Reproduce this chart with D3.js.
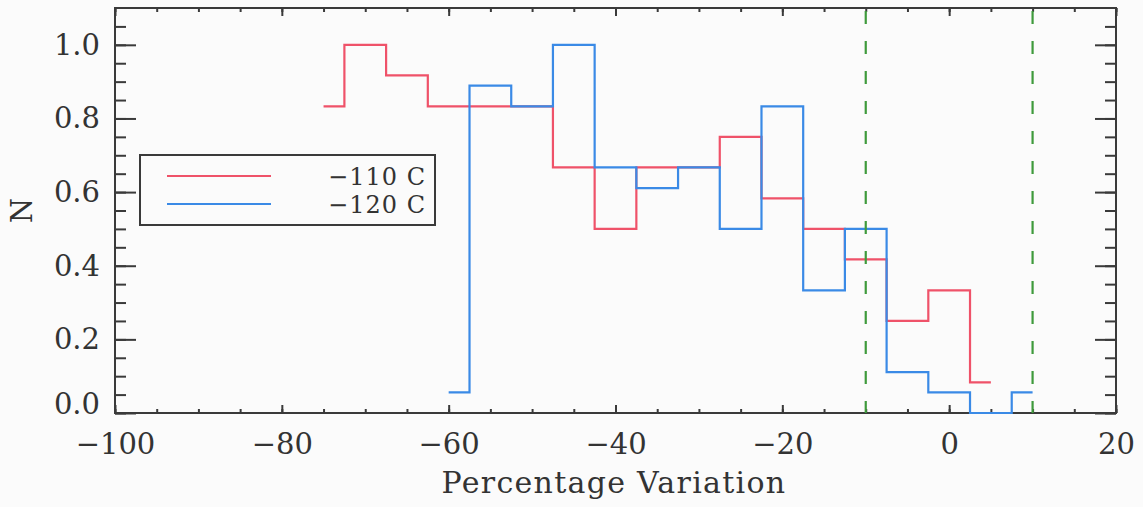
<!DOCTYPE html>
<html>
<head>
<meta charset="utf-8">
<script src="https://cdn.jsdelivr.net/npm/d3@7"></script>
<style>
  body { margin: 0; background: #fbfbfb; }
  svg { display: block; }
  text { font-family: "DejaVu Serif", serif; fill: #333; }
</style>
</head>
<body>
<svg class="hist"></svg>
<script>
// Total dimensions
var w = 1143,
    h = 507;

// Bin centres and normalised counts for each temperature
var redCentres = [-75, -70, -65, -60, -55, -50, -45, -40, -35, -30, -25, -20, -15, -10, -5, 0, 5];
var redValues = [0.833, 1.0, 0.917, 0.833, 0.833, 0.833, 0.667, 0.5, 0.667, 0.667, 0.75, 0.583, 0.5, 0.417, 0.25, 0.333, 0.083];

var blueCentres = [-60, -55, -50, -45, -40, -35, -30, -25, -20, -15, -10, -5, 0, 5, 10];
var blueValues = [0.056, 0.889, 0.833, 1.0, 0.667, 0.611, 0.667, 0.5, 0.833, 0.333, 0.5, 0.111, 0.056, 0, 0.056];

var seriesLabels = ["\u2212110 C", "\u2212120 C"];
var seriesColours = ["#ef5269", "#3a8ae6"];

// limits marked by dashed lines
var limits = [-10, 10];

var xMajor = [-100, -80, -60, -40, -20, 0, 20];
var xMinor = d3.range(-100, 21, 5);
var yMajor = [0, 0.2, 0.4, 0.6, 0.8, 1.0];
var yMinor = d3.range(0, 1.1, 0.05);

var svg = d3.select(".hist")
    .attr("width", w)
    .attr("height", h);

var margin = { top: 8, right: 27, bottom: 94, left: 115 },
    width = w - margin.left - margin.right,
    height = h - margin.top - margin.bottom,
    g = svg.append("g").attr("transform", "translate(" + margin.left + "," + margin.top + ")");

var xScale = d3.scaleLinear()
    .range([0, width])
    .domain([-100, 20]);

var yScale = d3.scaleLinear()
    .range([height, 0])
    .domain([0, 1.1]);

var fmtX = function(d) { return d < 0 ? "\u2212" + Math.abs(d) : "" + d; };

// Axes (ticks point inwards like the original)
var axisCol = "#3a3a3a";

g.append("g")
    .attr("class", "x axis")
    .attr("transform", "translate(0," + height + ")")
    .call(d3.axisBottom(xScale).tickValues(xMajor).tickSizeInner(-8).tickSizeOuter(0)
          .tickPadding(20).tickFormat(fmtX));

g.append("g")
    .attr("class", "x minor")
    .attr("transform", "translate(0," + height + ")")
    .call(d3.axisBottom(xScale).tickValues(xMinor).tickSizeInner(-4).tickSizeOuter(0).tickFormat(""));

g.append("g")
    .attr("class", "x top")
    .call(d3.axisTop(xScale).tickValues(xMajor).tickSizeInner(-8).tickSizeOuter(0).tickFormat(""));

g.append("g")
    .attr("class", "x top minor")
    .call(d3.axisTop(xScale).tickValues(xMinor).tickSizeInner(-4).tickSizeOuter(0).tickFormat(""));

g.append("g")
    .attr("class", "y axis")
    .call(d3.axisLeft(yScale).tickValues(yMajor).tickSizeInner(-21).tickSizeOuter(0)
          .tickPadding(15).tickFormat(d3.format(".1f")));

g.append("g")
    .attr("class", "y minor")
    .call(d3.axisLeft(yScale).tickValues(yMinor).tickSizeInner(-11).tickSizeOuter(0).tickFormat(""));

g.append("g")
    .attr("class", "y right")
    .attr("transform", "translate(" + width + ",0)")
    .call(d3.axisRight(yScale).tickValues(yMajor).tickSizeInner(-21).tickSizeOuter(0).tickFormat(""));

g.append("g")
    .attr("class", "y right minor")
    .attr("transform", "translate(" + width + ",0)")
    .call(d3.axisRight(yScale).tickValues(yMinor).tickSizeInner(-11).tickSizeOuter(0).tickFormat(""));

g.selectAll(".domain").remove();
g.selectAll(".tick line")
    .attr("stroke", axisCol)
    .attr("stroke-width", 2);
g.selectAll(".axis text")
    .attr("font-family", "DejaVu Serif, serif")
    .attr("font-size", "29px")
    .attr("fill", "#333");

// 0.0 label sits a little above the bottom edge in the original
g.selectAll(".y.axis .tick text")
    .filter(function(d) { return d === 0; })
    .attr("dy", "0.0em");

// Frame
g.append("rect")
    .attr("x", 0)
    .attr("y", 0)
    .attr("width", width)
    .attr("height", height)
    .attr("fill", "none")
    .attr("stroke", axisCol)
    .attr("stroke-width", 2);

// Histograms drawn as steps centred on each bin
var drawHist = function(centres, values, colour) {
    var pts = centres.map(function(c, i) { return [c, values[i]]; });
    var line = d3.line()
        .curve(d3.curveStep)
        .x(function(d) { return xScale(d[0]); })
        .y(function(d) { return yScale(d[1]); });
    g.append("path")
        .datum(pts)
        .attr("fill", "none")
        .attr("stroke", colour)
        .attr("stroke-width", 2.2)
        .attr("d", line);
};

drawHist(redCentres, redValues, seriesColours[0]);
drawHist(blueCentres, blueValues, seriesColours[1]);

// Dashed limits
g.selectAll(".limit")
    .data(limits)
    .enter().append("line")
    .attr("class", "limit")
    .attr("x1", function(d) { return xScale(d); })
    .attr("x2", function(d) { return xScale(d); })
    .attr("y1", 0)
    .attr("y2", height)
    .attr("stroke", "#3f9a3c")
    .attr("stroke-width", 2.2)
    .attr("stroke-dasharray", "13,17")
    .attr("stroke-dashoffset", -3);

// Legend
var lg = svg.append("g")
    .attr("class", "legend")
    .attr("transform", "translate(140,155)");

lg.append("rect")
    .attr("width", 295)
    .attr("height", 70)
    .attr("fill", "#fbfbfb")
    .attr("stroke", axisCol)
    .attr("stroke-width", 2);

seriesLabels.forEach(function(lab, i) {
    var yy = 21 + i * 28;
    lg.append("line")
        .attr("x1", 27)
        .attr("x2", 131)
        .attr("y1", yy)
        .attr("y2", yy)
        .attr("stroke", seriesColours[i])
        .attr("stroke-width", 2);
    lg.append("text")
        .attr("x", 286)
        .attr("y", yy)
        .attr("dy", "0.36em")
        .attr("text-anchor", "end")
        .attr("font-size", "24px")
        .style("letter-spacing", "1px")
        .text(lab);
});

// Axis titles
svg.append("text")
    .attr("x", 614)
    .attr("y", 493)
    .attr("text-anchor", "middle")
    .attr("font-size", "30px")
    .style("letter-spacing", "1.3px")
    .text("Percentage Variation");

svg.append("text")
    .attr("transform", "translate(32," + (margin.top + height / 2) + ") rotate(-90)")
    .attr("text-anchor", "middle")
    .attr("font-size", "29px")
    .text("N");
</script>
</body>
</html>
